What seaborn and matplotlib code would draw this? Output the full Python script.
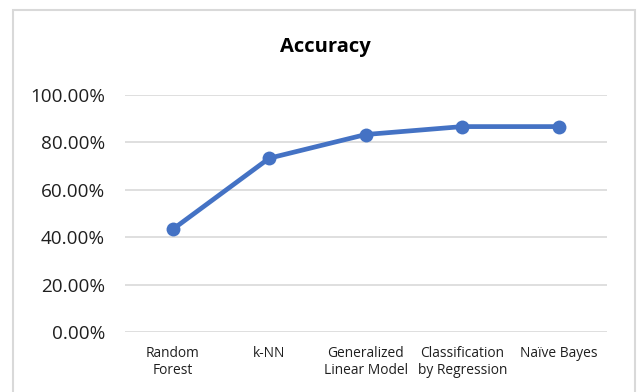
import matplotlib
matplotlib.use("Agg")
import matplotlib.pyplot as plt
from matplotlib.patches import Rectangle
from matplotlib.ticker import PercentFormatter
import seaborn as sns
import pandas as pd

models = ["Random\nForest", "k-NN", "Generalized\nLinear Model",
          "Classification\nby Regression", "Naïve Bayes"]
accuracy = [0.4333, 0.7333, 0.8333, 0.8667, 0.8667]
y_ticks = [0.0, 0.2, 0.4, 0.6, 0.8, 1.0]

df = pd.DataFrame({"model": models, "accuracy": accuracy})

sns.set_theme(style="white")
plt.rcParams["font.family"] = ["Open Sans", "DejaVu Sans"]

fig = plt.figure(figsize=(6.37, 3.92), dpi=100)
fig.patch.set_facecolor("white")

# light frame around the whole chart
fig.patches.append(Rectangle((13 / 637, -0.05), (635 - 13) / 637, 1.05 - 10.5 / 392,
                             transform=fig.transFigure, fill=False,
                             edgecolor="#d9d9d9", linewidth=1.5))

ax = fig.add_axes([124.5 / 637, (392 - 332) / 392, (607 - 124.5) / 637, (332 - 95) / 392])

sns.lineplot(data=df, x="model", y="accuracy", ax=ax, sort=False,
             color="#4472C4", linewidth=3.4, marker="o", markersize=10,
             markeredgewidth=0)

ax.set_ylim(0, 1.0)
ax.set_xlim(-0.5, len(models) - 0.5)
ax.set_yticks(y_ticks)
ax.yaxis.set_major_formatter(PercentFormatter(1.0, decimals=2))
ax.grid(axis="y", color="#d9d9d9", linewidth=1.2)
ax.set_axisbelow(True)
for s in ax.spines.values():
    s.set_visible(False)
ax.set_xlabel("")
ax.set_ylabel("")
ax.tick_params(axis="y", length=0, pad=14, labelsize=13.6, labelcolor="#1f1f1f")
ax.tick_params(axis="x", length=0, pad=10, labelsize=9.9, labelcolor="#1f1f1f")
for lbl in ax.get_xticklabels():
    lbl.set_va("top")
    lbl.set_linespacing(1.2)

fig.text(325 / 637, 1 - 47 / 392, "Accuracy", ha="center", va="center",
         fontsize=14.5, fontweight="bold", color="#000000")

fig.savefig("out.png", dpi=100)
